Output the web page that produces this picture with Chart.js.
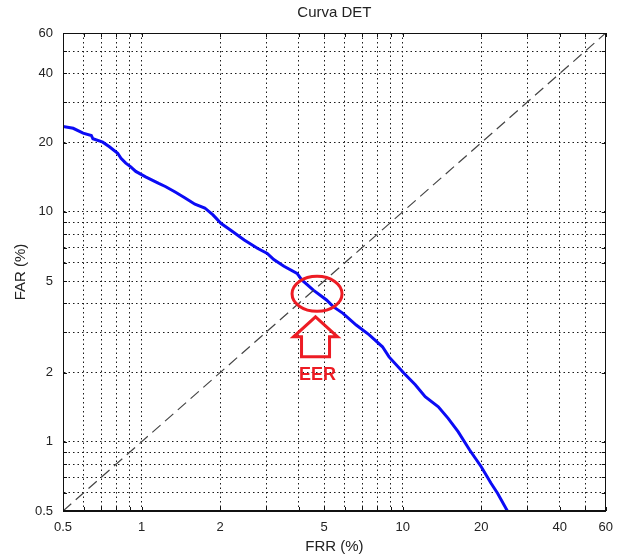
<!DOCTYPE html>
<html>
<head>
<meta charset="utf-8">
<title>Curva DET</title>
<script src="https://cdn.jsdelivr.net/npm/chart.js@4.4.1/dist/chart.umd.min.js"></script>
<style>
  html, body { margin: 0; padding: 0; background: #fff; }
  canvas { display: block; }
</style>
</head>
<body>
<canvas id="det-chart" width="622" height="556"></canvas>
<script>
// DET curve: false rejection rate vs false acceptance rate (both in %)
const frr = [0.5, 0.547, 0.597, 0.642, 0.651, 0.71, 0.753, 0.81, 0.834, 0.87, 0.909, 0.95,
  1.036, 1.163, 1.233, 1.345, 1.468, 1.601, 1.746, 1.877, 2.018, 2.203, 2.473, 2.777,
  3.03, 3.21, 3.51, 3.94, 4.11, 4.55, 5.11, 5.42, 5.91, 6.64, 7.45, 8.37, 8.87,
  10.1, 11.18, 12.2, 13.7, 14.94, 16.31, 18.06, 20.0, 21.81, 23.1, 25.2];
const far = [23.5, 23.1, 22.0, 21.5, 20.8, 20.1, 19.2, 18.0, 17.1, 16.3, 15.7, 15.0,
  14.2, 13.3, 12.9, 12.2, 11.5, 10.8, 10.4, 9.7, 8.9, 8.3, 7.55, 6.95,
  6.6, 6.2, 5.8, 5.4, 5.06, 4.57, 4.14, 3.87, 3.62, 3.22, 2.92, 2.59, 2.34,
  1.99, 1.77, 1.57, 1.42, 1.265, 1.107, 0.921, 0.779, 0.66, 0.597, 0.5];

// equal error line FRR = FAR
const diagonal = [0.5, 60];

// dotted grid positions and the ones that get a label
const gridValues = [0.5, 0.6, 0.7, 0.8, 0.9, 1, 2, 3, 4, 5, 6, 7, 8, 9, 10, 20, 30, 40, 50, 60];
const tickLabels = [0.5, 1, 2, 5, 10, 20, 40, 60];

// marked equal error rate point
const eerPoint = { frr: 4.7, far: 4.4 };

const RED = '#ed1c24';
const FONT = '"Liberation Sans", Arial, Helvetica, sans-serif';

function logAxis(titleText, isX) {
  return {
    type: 'logarithmic',
    min: 0.5,
    max: 60,
    afterBuildTicks: (scale) => {
      scale.ticks = gridValues.map(v => ({ value: v }));
    },
    afterFit: (scale) => {
      if (isX) scale.height = 45;
      else scale.width = 63;
    },
    ticks: {
      autoSkip: false,
      maxRotation: 0,
      padding: isX ? 9 : 10,
      color: '#222',
      font: { family: FONT, size: 13 },
      callback: (value) => tickLabels.includes(value) ? String(value) : ''
    },
    grid: {
      color: '#1a1a1a',
      lineWidth: 1,
      drawTicks: false
    },
    // in v4 the grid line dash lives under border
    border: { display: true, color: '#111', width: 1, dash: [1.5, 3] },
    title: {
      display: true,
      text: titleText,
      color: '#222',
      font: { family: FONT, size: 15 },
      padding: isX ? { top: 0, bottom: 0 } : { top: 12, bottom: 0 }
    }
  };
}

// frame, inward tick marks and the EER marker
const detDecorations = {
  id: 'detDecorations',
  afterDraw(chart) {
    const { ctx, chartArea: a, scales: { x, y } } = chart;
    ctx.save();
    ctx.strokeStyle = '#111';
    ctx.lineWidth = 1;
    ctx.setLineDash([]);
    ctx.strokeRect(Math.round(a.left) + 0.5, Math.round(a.top) + 0.5,
      Math.round(a.right - a.left) - 1, Math.round(a.bottom - a.top) - 1);

    ctx.beginPath();
    gridValues.forEach(v => {
      const px = Math.round(x.getPixelForValue(v)) + 0.5;
      const py = Math.round(y.getPixelForValue(v)) + 0.5;
      ctx.moveTo(px, a.bottom); ctx.lineTo(px, a.bottom - 4);
      ctx.moveTo(px, a.top); ctx.lineTo(px, a.top + 4);
      ctx.moveTo(a.left, py); ctx.lineTo(a.left + 4, py);
      ctx.moveTo(a.right, py); ctx.lineTo(a.right - 4, py);
    });
    ctx.stroke();

    // EER ellipse
    const cx = x.getPixelForValue(eerPoint.frr);
    const cy = y.getPixelForValue(eerPoint.far);
    ctx.strokeStyle = RED;
    ctx.lineWidth = 3;
    ctx.beginPath();
    ctx.ellipse(cx, cy, 25, 17.5, 0, 0, Math.PI * 2);
    ctx.stroke();

    // outlined arrow pointing up at the ellipse
    const ax = cx - 1.5;
    ctx.lineJoin = 'miter';
    ctx.beginPath();
    ctx.moveTo(ax, cy + 23);
    ctx.lineTo(ax + 22, cy + 43);
    ctx.lineTo(ax + 14, cy + 43);
    ctx.lineTo(ax + 14, cy + 63);
    ctx.lineTo(ax - 14, cy + 63);
    ctx.lineTo(ax - 14, cy + 43);
    ctx.lineTo(ax - 22, cy + 43);
    ctx.closePath();
    ctx.stroke();

    ctx.fillStyle = RED;
    ctx.font = 'bold 18px ' + FONT;
    ctx.textAlign = 'center';
    ctx.textBaseline = 'middle';
    ctx.fillText('EER', ax + 2, cy + 81);
    ctx.restore();
  }
};

new Chart(document.getElementById('det-chart'), {
  type: 'scatter',
  data: {
    datasets: [
      {
        label: 'FRR = FAR',
        data: diagonal.map(v => ({ x: v, y: v })),
        showLine: true,
        borderColor: '#444',
        borderWidth: 1.2,
        borderDash: [11, 6],
        pointRadius: 0
      },
      {
        label: 'DET',
        data: frr.map((v, i) => ({ x: v, y: far[i] })),
        showLine: true,
        borderColor: '#0b0bf5',
        borderWidth: 3,
        pointRadius: 0
      }
    ]
  },
  options: {
    responsive: false,
    animation: false,
    layout: { padding: { left: 0, right: 9, top: 0, bottom: 0 } },
    scales: {
      x: logAxis('FRR (%)', true),
      y: logAxis('FAR (%)', false)
    },
    plugins: {
      legend: { display: false },
      tooltip: { enabled: false },
      title: {
        display: true,
        text: 'Curva DET',
        fullSize: false,
        color: '#222',
        font: { family: FONT, size: 15, weight: 'normal' },
        padding: { top: 4, bottom: 11 }
      }
    }
  },
  plugins: [detDecorations]
});
</script>
</body>
</html>
